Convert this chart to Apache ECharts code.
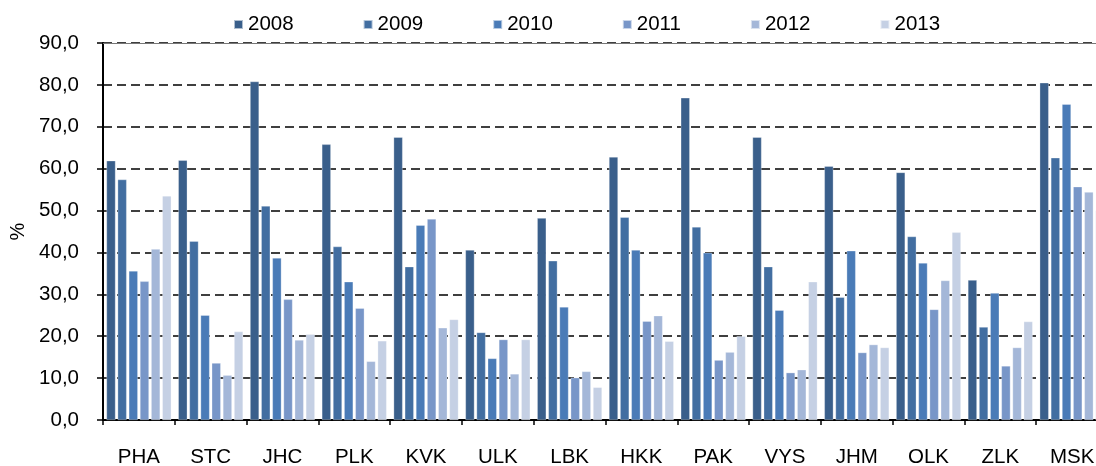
<!DOCTYPE html>
<html>
<head>
<meta charset="utf-8">
<script src="https://cdn.jsdelivr.net/npm/echarts@6/dist/echarts.min.js"></script>
<style>
html,body{margin:0;padding:0;background:#fff;overflow:hidden;}
#chart{width:1096px;height:466px;}
</style>
</head>
<body>
<div id="chart"></div>
<script>
const categories = ['PHA','STC','JHC','PLK','KVK','ULK','LBK','HKK','PAK','VYS','JHM','OLK','ZLK','MSK'];
const years = ['2008','2009','2010','2011','2012','2013'];
const v2008 = [61.9, 62.0, 80.8, 65.8, 67.5, 40.6, 48.2, 62.8, 76.9, 67.5, 60.6, 59.1, 33.4, 80.5];
const v2009 = [57.4, 42.7, 51.1, 41.4, 36.6, 20.9, 38.0, 48.4, 46.1, 36.6, 29.3, 43.8, 22.2, 62.6];
const v2010 = [35.6, 25.0, 38.7, 33.0, 46.5, 14.7, 27.0, 40.6, 39.9, 26.2, 40.4, 37.5, 30.3, 75.4];
const v2011 = [33.1, 13.6, 28.8, 26.7, 48.0, 19.2, 10.1, 23.6, 14.3, 11.3, 16.1, 26.4, 12.9, 55.7];
const v2012 = [40.8, 10.7, 19.1, 14.0, 22.0, 11.0, 11.6, 24.9, 16.2, 12.0, 18.0, 33.3, 17.3, 54.4];
const v2013 = [53.5, 21.1, 20.5, 18.9, 24.0, 19.2, 7.8, 18.8, 20.0, 33.0, 17.3, 44.8, 23.5, 50.0];
const seriesValues = [v2008, v2009, v2010, v2011, v2012, v2013];
const colors = ['#3a5f8b','#426ea1','#4a7bb7','#7896c8','#a4b7d8','#c5d0e4'];

const font = 'Liberation Sans, Arial, sans-serif';
const chart = echarts.init(document.getElementById('chart'));
const series = years.map((y, i) => {
  const s = {
    name: y,
    type: 'bar',
    data: seriesValues[i],
    barWidth: 9,
    barGap: '24%',
    itemStyle: { color: colors[i], borderColor: 'rgba(255,255,255,0.6)', borderWidth: 0.5 },
    emphasis: { disabled: true },
    animation: false
  };
  if (i === 0) {
    s.markLine = {
      silent: true, symbol: 'none', label: { show: false },
      lineStyle: { color: '#777', type: 'solid', width: 1 },
      data: [{ yAxis: 90 }]
    };
  }
  return s;
});

chart.setOption({
  animation: false,
  color: colors,
  textStyle: { fontFamily: font },
  legend: {
    data: years,
    left: 228, top: 9,
    itemWidth: 9, itemHeight: 9, itemGap: 69,
    icon: 'rect',
    textStyle: { fontSize: 20.5, color: '#000', fontFamily: font }
  },
  grid: { left: 103, width: 1005, top: 43, bottom: 46, containLabel: false, outerBoundsMode: 'none' },
  xAxis: {
    type: 'category',
    data: categories,
    axisLine: { lineStyle: { color: '#000', width: 2 } },
    axisTick: { show: true, length: 5, lineStyle: { color: '#000', width: 1.5 } },
    axisLabel: { fontSize: 20.5, color: '#000', margin: 27, fontFamily: font, interval: 0 },
    splitLine: { show: false }
  },
  yAxis: {
    type: 'value',
    min: 0, max: 90, interval: 10,
    name: '%',
    nameLocation: 'middle',
    nameGap: 74,
    nameRotate: 90,
    nameTextStyle: { fontSize: 20, color: '#000', fontFamily: font },
    axisLine: { show: true, lineStyle: { color: '#000', width: 2 } },
    axisTick: { show: true, inside: false, length: 6, lineStyle: { color: '#000', width: 1.5 } },
    axisLabel: {
      fontSize: 20.5, color: '#000', margin: 24, fontFamily: font,
      formatter: v => v.toFixed(1).replace('.', ',')
    },
    splitLine: { show: true, lineStyle: { color: '#000', type: [9, 5], width: 1.5 } }
  },
  series: series
});
</script>
</body>
</html>
